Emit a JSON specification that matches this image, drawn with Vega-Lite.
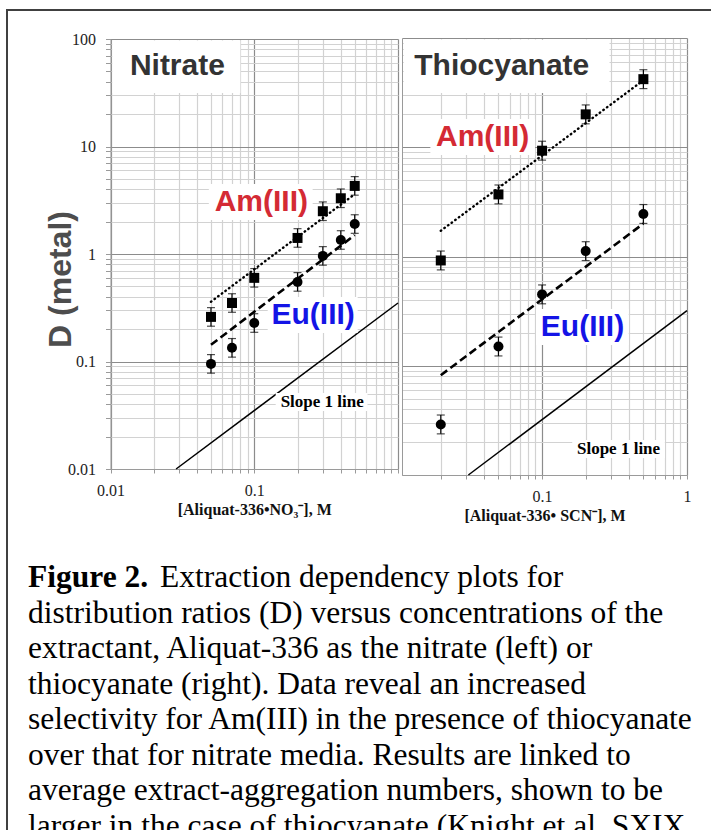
{
  "$schema": "https://vega.github.io/schema/vega-lite/v6.json",
  "width": 720,
  "height": 840,
  "autosize": {"type": "none"},
  "padding": {"left": 7, "top": 10, "right": 0, "bottom": 0},
  "background": "white",
  "config": {
    "view": {"stroke": "#404040", "strokeWidth": 2, "fill": "white"},
    "axis": {
      "domainColor": "#9a9a9a",
      "tickColor": "#9a9a9a",
      "labelFont": "Liberation Serif",
      "labelFontSize": 16,
      "labelColor": "#222222",
      "labelOverlap": false,
      "labelFlush": false,
      "titleFont": "Liberation Serif",
      "titleFontSize": 16,
      "titleFontWeight": "bold",
      "titleColor": "#111111",
      "gridWidth": 1.2
    }
  },
  "datasets": {
    "nitrate": [
      {"conc": 0.05, "ion": "Am(III)", "D": 0.26, "lo": 0.213, "hi": 0.317},
      {"conc": 0.07, "ion": "Am(III)", "D": 0.35, "lo": 0.287, "hi": 0.427},
      {"conc": 0.1, "ion": "Am(III)", "D": 0.6, "lo": 0.492, "hi": 0.732},
      {"conc": 0.2, "ion": "Am(III)", "D": 1.41, "lo": 1.156, "hi": 1.72},
      {"conc": 0.3, "ion": "Am(III)", "D": 2.5, "lo": 2.049, "hi": 3.05},
      {"conc": 0.4, "ion": "Am(III)", "D": 3.3, "lo": 2.705, "hi": 4.026},
      {"conc": 0.5, "ion": "Am(III)", "D": 4.3, "lo": 3.525, "hi": 5.246},
      {"conc": 0.05, "ion": "Eu(III)", "D": 0.095, "lo": 0.0779, "hi": 0.1159},
      {"conc": 0.07, "ion": "Eu(III)", "D": 0.134, "lo": 0.1098, "hi": 0.1635},
      {"conc": 0.1, "ion": "Eu(III)", "D": 0.228, "lo": 0.1869, "hi": 0.2782},
      {"conc": 0.2, "ion": "Eu(III)", "D": 0.55, "lo": 0.4508, "hi": 0.671},
      {"conc": 0.3, "ion": "Eu(III)", "D": 0.96, "lo": 0.7869, "hi": 1.171},
      {"conc": 0.4, "ion": "Eu(III)", "D": 1.35, "lo": 1.107, "hi": 1.647},
      {"conc": 0.5, "ion": "Eu(III)", "D": 1.9, "lo": 1.557, "hi": 2.318}
    ],
    "thiocyanate": [
      {"conc": 0.02, "ion": "Am(III)", "D": 0.92, "lo": 0.754, "hi": 1.122},
      {"conc": 0.05, "ion": "Am(III)", "D": 3.7, "lo": 3.033, "hi": 4.514},
      {"conc": 0.1, "ion": "Am(III)", "D": 9.3, "lo": 7.623, "hi": 11.35},
      {"conc": 0.2, "ion": "Am(III)", "D": 20, "lo": 16.39, "hi": 24.4},
      {"conc": 0.5, "ion": "Am(III)", "D": 42, "lo": 34.43, "hi": 51.24},
      {"conc": 0.02, "ion": "Eu(III)", "D": 0.029, "lo": 0.0238, "hi": 0.0354},
      {"conc": 0.05, "ion": "Eu(III)", "D": 0.15, "lo": 0.123, "hi": 0.183},
      {"conc": 0.1, "ion": "Eu(III)", "D": 0.45, "lo": 0.369, "hi": 0.549},
      {"conc": 0.2, "ion": "Eu(III)", "D": 1.12, "lo": 0.918, "hi": 1.366},
      {"conc": 0.5, "ion": "Eu(III)", "D": 2.45, "lo": 2.008, "hi": 2.989}
    ],
    "fits": [
      {"medium": "nitrate", "ion": "Am(III)", "conc": 0.05, "D": 0.36},
      {"medium": "nitrate", "ion": "Am(III)", "conc": 0.5, "D": 3.6},
      {"medium": "nitrate", "ion": "Eu(III)", "conc": 0.05, "D": 0.143},
      {"medium": "nitrate", "ion": "Eu(III)", "conc": 0.5, "D": 1.5},
      {"medium": "thiocyanate", "ion": "Am(III)", "conc": 0.02, "D": 1.72},
      {"medium": "thiocyanate", "ion": "Am(III)", "conc": 0.5, "D": 41},
      {"medium": "thiocyanate", "ion": "Eu(III)", "conc": 0.02, "D": 0.082},
      {"medium": "thiocyanate", "ion": "Eu(III)", "conc": 0.5, "D": 2.0}
    ],
    "slope": [
      {"medium": "nitrate", "conc": 0.0286, "D": 0.01},
      {"medium": "nitrate", "conc": 1, "D": 0.35},
      {"medium": "thiocyanate", "conc": 0.031, "D": 0.01},
      {"medium": "thiocyanate", "conc": 1, "D": 0.32}
    ],
    "caption": [
      {"line": 1, "text": "Extraction dependency plots for"},
      {"line": 2, "text": "distribution ratios (D) versus concentrations of the"},
      {"line": 3, "text": "extractant, Aliquat-336 as the nitrate (left) or"},
      {"line": 4, "text": "thiocyanate (right). Data reveal an increased"},
      {"line": 5, "text": "selectivity for Am(III) in the presence of thiocyanate"},
      {"line": 6, "text": "over that for nitrate media. Results are linked to"},
      {"line": 7, "text": "average extract-aggregation numbers, shown to be"},
      {"line": 8, "text": "larger in the case of thiocyanate (Knight et al. SXIX"}
    ],
    "one": [{}]
  },
  "layer": [
    {
      "layer": [
        {
          "data": {"name": "slope"},
          "transform": [{"filter": "datum.medium === 'nitrate'"}],
          "mark": {"type": "line", "color": "black", "strokeWidth": 1.5},
          "encoding": {
            "x": {
              "field": "conc", "type": "quantitative",
              "scale": {"type": "log", "domain": [0.01, 1], "range": [103.5, 391], "nice": false},
              "axis": {
                "orient": "top",
                "values": [0.01, 0.02, 0.03, 0.04, 0.05, 0.06, 0.07, 0.08, 0.09, 0.1, 0.2, 0.3, 0.4, 0.5, 0.6, 0.7, 0.8, 0.9, 1],
                "grid": true,
                "gridColor": {"condition": {"test": "abs(log(datum.value)/LN10 - round(log(datum.value)/LN10)) < 0.001", "value": "#8c8c8c"}, "value": "#d2d2d2"},
                "domain": false, "ticks": false, "labels": false, "title": null
              }
            },
            "y": {
              "field": "D", "type": "quantitative",
              "scale": {"type": "log", "domain": [0.01, 100], "range": [459, 29], "nice": false},
              "axis": {
                "orient": "left", "offset": -103.5,
                "values": [0.01, 0.02, 0.03, 0.04, 0.05, 0.06, 0.07, 0.08, 0.09, 0.1, 0.2, 0.3, 0.4, 0.5, 0.6, 0.7, 0.8, 0.9, 1, 2, 3, 4, 5, 6, 7, 8, 9, 10, 20, 30, 40, 50, 60, 70, 80, 90, 100],
                "grid": true,
                "gridColor": {"condition": {"test": "abs(log(datum.value)/LN10 - round(log(datum.value)/LN10)) < 0.001", "value": "#8c8c8c"}, "value": "#d2d2d2"},
                "tickSize": 5,
                "labelExpr": "abs(log(datum.value)/LN10 - round(log(datum.value)/LN10)) < 0.001 ? format(datum.value, '~g') : ''",
                "labelPadding": 10,
                "title": "D (metal)",
                "titleFont": "Liberation Sans",
                "titleFontSize": 32,
                "titleFontWeight": "bold",
                "titleColor": "#4d4d4d",
                "titleAngle": 270,
                "titleAlign": "center",
                "titleBaseline": "middle",
                "titleX": -50,
                "titleY": 269
              }
            }
          }
        },
        {
          "layer": [
            {
              "data": {"name": "one"},
              "mark": {"type": "rect", "color": "white"},
              "encoding": {
                "x": {
                  "datum": 0.0103, "type": "quantitative",
                  "axis": {
                    "orient": "bottom", "offset": -381,
                    "values": [0.01, 0.02, 0.03, 0.04, 0.05, 0.06, 0.07, 0.08, 0.09, 0.1, 0.2, 0.3, 0.4, 0.5, 0.6, 0.7, 0.8, 0.9, 1],
                    "grid": false,
                    "tickSize": 4,
                    "labelExpr": "indexof([0.01, 0.1], datum.value) >= 0 ? format(datum.value, '~g') : ''",
                    "labelPadding": 9,
                    "title": "[Aliquat-336•NO₃⁻], M",
                    "titlePadding": 3
                  }
                },
                "x2": {"datum": 0.08},
                "y": {"datum": 31.5, "type": "quantitative"},
                "y2": {"datum": 97}
              }
            },
            {
              "data": {"name": "one"},
              "mark": {"type": "rect", "color": "white"},
              "encoding": {"x": {"datum": 0.0483, "type": "quantitative"}, "x2": {"datum": 0.2548}, "y": {"datum": 4.48, "type": "quantitative"}, "y2": {"datum": 2.07}}
            },
            {
              "data": {"name": "one"},
              "mark": {"type": "rect", "color": "white"},
              "encoding": {"x": {"datum": 0.124, "type": "quantitative"}, "x2": {"datum": 0.524}, "y": {"datum": 0.398, "type": "quantitative"}, "y2": {"datum": 0.184}}
            },
            {
              "data": {"name": "one"},
              "mark": {"type": "rect", "color": "white"},
              "encoding": {"x": {"datum": 0.141, "type": "quantitative"}, "x2": {"datum": 0.614}, "y": {"datum": 0.0509, "type": "quantitative"}, "y2": {"datum": 0.0347}}
            },
            {
              "data": {"name": "one"},
              "mark": {"type": "text", "font": "Liberation Sans", "fontWeight": "bold", "fontSize": 30, "color": "#333333", "align": "center", "baseline": "middle", "text": "Nitrate"},
              "encoding": {"x": {"datum": 0.0292, "type": "quantitative"}, "y": {"datum": 56, "type": "quantitative"}}
            },
            {
              "data": {"name": "fits"},
              "transform": [{"filter": "datum.medium === 'nitrate' && datum.ion === 'Am(III)'"}],
              "mark": {"type": "line", "color": "black", "strokeWidth": 2.4, "strokeDash": [0.5, 4], "strokeCap": "round"},
              "encoding": {"x": {"field": "conc", "type": "quantitative"}, "y": {"field": "D", "type": "quantitative"}}
            },
            {
              "data": {"name": "fits"},
              "transform": [{"filter": "datum.medium === 'nitrate' && datum.ion === 'Eu(III)'"}],
              "mark": {"type": "line", "color": "black", "strokeWidth": 2.6, "strokeDash": [8, 4]},
              "encoding": {"x": {"field": "conc", "type": "quantitative"}, "y": {"field": "D", "type": "quantitative"}}
            },
            {
              "data": {"name": "nitrate"},
              "mark": {"type": "rule", "color": "black", "strokeWidth": 1.2},
              "encoding": {"x": {"field": "conc", "type": "quantitative"}, "y": {"field": "lo", "type": "quantitative"}, "y2": {"field": "hi"}}
            },
            {
              "data": {"name": "nitrate"},
              "mark": {"type": "tick", "orient": "horizontal", "color": "black", "size": 8, "thickness": 1.2},
              "encoding": {"x": {"field": "conc", "type": "quantitative"}, "y": {"field": "lo", "type": "quantitative"}}
            },
            {
              "data": {"name": "nitrate"},
              "mark": {"type": "tick", "orient": "horizontal", "color": "black", "size": 8, "thickness": 1.2},
              "encoding": {"x": {"field": "conc", "type": "quantitative"}, "y": {"field": "hi", "type": "quantitative"}}
            },
            {
              "data": {"name": "nitrate"},
              "mark": {"type": "point", "filled": true, "color": "black", "opacity": 1, "size": 100},
              "encoding": {
                "x": {"field": "conc", "type": "quantitative"},
                "y": {"field": "D", "type": "quantitative"},
                "shape": {"field": "ion", "type": "nominal", "scale": {"domain": ["Am(III)", "Eu(III)"], "range": ["square", "circle"]}, "legend": null}
              }
            },
            {
              "data": {"name": "one"},
              "mark": {"type": "text", "font": "Liberation Sans", "fontWeight": "bold", "fontSize": 30, "color": "#d42a34", "align": "center", "baseline": "middle", "text": "Am(III)"},
              "encoding": {"x": {"datum": 0.112, "type": "quantitative"}, "y": {"datum": 3.05, "type": "quantitative"}}
            },
            {
              "data": {"name": "one"},
              "mark": {"type": "text", "font": "Liberation Sans", "fontWeight": "bold", "fontSize": 30, "color": "#1414e6", "align": "center", "baseline": "middle", "text": "Eu(III)"},
              "encoding": {"x": {"datum": 0.257, "type": "quantitative"}, "y": {"datum": 0.271, "type": "quantitative"}}
            },
            {
              "data": {"name": "one"},
              "mark": {"type": "text", "font": "Liberation Serif", "fontWeight": "bold", "fontSize": 17, "color": "black", "align": "center", "baseline": "middle", "text": "Slope 1 line"},
              "encoding": {"x": {"datum": 0.297, "type": "quantitative"}, "y": {"datum": 0.042, "type": "quantitative"}}
            }
          ]
        }
      ],
      "resolve": {"axis": {"x": "independent"}}
    },
    {
      "layer": [
        {
          "data": {"name": "slope"},
          "transform": [{"filter": "datum.medium === 'thiocyanate'"}],
          "mark": {"type": "line", "color": "black", "strokeWidth": 1.5},
          "encoding": {
            "x": {
              "field": "conc", "type": "quantitative",
              "scale": {"type": "log", "domain": [0.0108, 1], "range": [395, 680], "nice": false},
              "axis": {
                "orient": "top",
                "values": [0.02, 0.03, 0.04, 0.05, 0.06, 0.07, 0.08, 0.09, 0.1, 0.2, 0.3, 0.4, 0.5, 0.6, 0.7, 0.8, 0.9, 1],
                "grid": true,
                "gridColor": {"condition": {"test": "abs(log(datum.value)/LN10 - round(log(datum.value)/LN10)) < 0.001", "value": "#8c8c8c"}, "value": "#d2d2d2"},
                "domain": false, "ticks": false, "labels": false, "title": null
              }
            },
            "y": {
              "field": "D", "type": "quantitative",
              "scale": {"type": "log", "domain": [0.01, 100], "range": [465, 28], "nice": false},
              "axis": {
                "orient": "left", "offset": -395,
                "values": [0.01, 0.02, 0.03, 0.04, 0.05, 0.06, 0.07, 0.08, 0.09, 0.1, 0.2, 0.3, 0.4, 0.5, 0.6, 0.7, 0.8, 0.9, 1, 2, 3, 4, 5, 6, 7, 8, 9, 10, 20, 30, 40, 50, 60, 70, 80, 90, 100],
                "grid": true,
                "gridColor": {"condition": {"test": "abs(log(datum.value)/LN10 - round(log(datum.value)/LN10)) < 0.001", "value": "#8c8c8c"}, "value": "#d2d2d2"},
                "ticks": false,
                "labels": false,
                "title": null
              }
            }
          }
        },
        {
          "layer": [
            {
              "data": {"name": "one"},
              "mark": {"type": "rect", "color": "white"},
              "encoding": {
                "x": {
                  "datum": 0.0111, "type": "quantitative",
                  "axis": {
                    "orient": "bottom", "offset": -375,
                    "values": [0.02, 0.03, 0.04, 0.05, 0.06, 0.07, 0.08, 0.09, 0.1, 0.2, 0.3, 0.4, 0.5, 0.6, 0.7, 0.8, 0.9, 1],
                    "grid": false,
                    "tickSize": 4,
                    "labelExpr": "indexof([0.1, 1], datum.value) >= 0 ? format(datum.value, '~g') : ''",
                    "labelPadding": 9,
                    "title": "[Aliquat-336• SCN⁻], M",
                    "titlePadding": 3
                  }
                },
                "x2": {"datum": 0.292},
                "y": {"datum": 31.4, "type": "quantitative"},
                "y2": {"datum": 97}
              }
            },
            {
              "data": {"name": "one"},
              "mark": {"type": "rect", "color": "white"},
              "encoding": {"x": {"datum": 0.01695, "type": "quantitative"}, "x2": {"datum": 0.0894}, "y": {"datum": 18.1, "type": "quantitative"}, "y2": {"datum": 8.49}}
            },
            {
              "data": {"name": "one"},
              "mark": {"type": "rect", "color": "white"},
              "encoding": {"x": {"datum": 0.0908, "type": "quantitative"}, "x2": {"datum": 0.396}, "y": {"datum": 0.331, "type": "quantitative"}, "y2": {"datum": 0.155}}
            },
            {
              "data": {"name": "one"},
              "mark": {"type": "rect", "color": "white"},
              "encoding": {"x": {"datum": 0.1615, "type": "quantitative"}, "x2": {"datum": 0.703}, "y": {"datum": 0.0209, "type": "quantitative"}, "y2": {"datum": 0.0143}}
            },
            {
              "data": {"name": "one"},
              "mark": {"type": "text", "font": "Liberation Sans", "fontWeight": "bold", "fontSize": 30, "color": "#333333", "align": "center", "baseline": "middle", "text": "Thiocyanate"},
              "encoding": {"x": {"datum": 0.0527, "type": "quantitative"}, "y": {"datum": 55, "type": "quantitative"}}
            },
            {
              "data": {"name": "fits"},
              "transform": [{"filter": "datum.medium === 'thiocyanate' && datum.ion === 'Am(III)'"}],
              "mark": {"type": "line", "color": "black", "strokeWidth": 2.4, "strokeDash": [0.5, 4], "strokeCap": "round"},
              "encoding": {"x": {"field": "conc", "type": "quantitative"}, "y": {"field": "D", "type": "quantitative"}}
            },
            {
              "data": {"name": "fits"},
              "transform": [{"filter": "datum.medium === 'thiocyanate' && datum.ion === 'Eu(III)'"}],
              "mark": {"type": "line", "color": "black", "strokeWidth": 2.6, "strokeDash": [8, 4]},
              "encoding": {"x": {"field": "conc", "type": "quantitative"}, "y": {"field": "D", "type": "quantitative"}}
            },
            {
              "data": {"name": "thiocyanate"},
              "mark": {"type": "rule", "color": "black", "strokeWidth": 1.2},
              "encoding": {"x": {"field": "conc", "type": "quantitative"}, "y": {"field": "lo", "type": "quantitative"}, "y2": {"field": "hi"}}
            },
            {
              "data": {"name": "thiocyanate"},
              "mark": {"type": "tick", "orient": "horizontal", "color": "black", "size": 8, "thickness": 1.2},
              "encoding": {"x": {"field": "conc", "type": "quantitative"}, "y": {"field": "lo", "type": "quantitative"}}
            },
            {
              "data": {"name": "thiocyanate"},
              "mark": {"type": "tick", "orient": "horizontal", "color": "black", "size": 8, "thickness": 1.2},
              "encoding": {"x": {"field": "conc", "type": "quantitative"}, "y": {"field": "hi", "type": "quantitative"}}
            },
            {
              "data": {"name": "thiocyanate"},
              "mark": {"type": "point", "filled": true, "color": "black", "opacity": 1, "size": 100},
              "encoding": {
                "x": {"field": "conc", "type": "quantitative"},
                "y": {"field": "D", "type": "quantitative"},
                "shape": {"field": "ion", "type": "nominal", "scale": {"domain": ["Am(III)", "Eu(III)"], "range": ["square", "circle"]}, "legend": null}
              }
            },
            {
              "data": {"name": "one"},
              "mark": {"type": "text", "font": "Liberation Sans", "fontWeight": "bold", "fontSize": 30, "color": "#d42a34", "align": "center", "baseline": "middle", "text": "Am(III)"},
              "encoding": {"x": {"datum": 0.0389, "type": "quantitative"}, "y": {"datum": 12.4, "type": "quantitative"}}
            },
            {
              "data": {"name": "one"},
              "mark": {"type": "text", "font": "Liberation Sans", "fontWeight": "bold", "fontSize": 30, "color": "#1414e6", "align": "center", "baseline": "middle", "text": "Eu(III)"},
              "encoding": {"x": {"datum": 0.19, "type": "quantitative"}, "y": {"datum": 0.226, "type": "quantitative"}}
            },
            {
              "data": {"name": "one"},
              "mark": {"type": "text", "font": "Liberation Serif", "fontWeight": "bold", "fontSize": 17, "color": "black", "align": "center", "baseline": "middle", "text": "Slope 1 line"},
              "encoding": {"x": {"datum": 0.337, "type": "quantitative"}, "y": {"datum": 0.0173, "type": "quantitative"}}
            }
          ]
        }
      ],
      "resolve": {"axis": {"x": "independent"}}
    },
    {
      "data": {"name": "caption"},
      "layer": [
        {
          "transform": [{"filter": "datum.line === 1"}],
          "mark": {"type": "text", "font": "Liberation Serif", "fontWeight": "bold", "fontSize": 31.5, "color": "black", "align": "left", "baseline": "alphabetic", "text": "Figure 2."},
          "encoding": {
            "x": {"value": 21},
            "y": {"field": "line", "type": "quantitative", "scale": {"domain": [1, 8], "range": [577, 826]}, "axis": null}
          }
        },
        {
          "transform": [{"filter": "datum.line === 1"}],
          "mark": {"type": "text", "font": "Liberation Serif", "fontSize": 31.5, "color": "black", "align": "left", "baseline": "alphabetic"},
          "encoding": {
            "x": {"value": 153},
            "y": {"field": "line", "type": "quantitative"},
            "text": {"field": "text"}
          }
        },
        {
          "transform": [{"filter": "datum.line > 1"}],
          "mark": {"type": "text", "font": "Liberation Serif", "fontSize": 31.5, "color": "black", "align": "left", "baseline": "alphabetic"},
          "encoding": {
            "x": {"value": 21},
            "y": {"field": "line", "type": "quantitative"},
            "text": {"field": "text"}
          }
        }
      ]
    }
  ],
  "resolve": {
    "scale": {"x": "independent", "y": "independent"},
    "axis": {"x": "independent", "y": "independent"}
  }
}
